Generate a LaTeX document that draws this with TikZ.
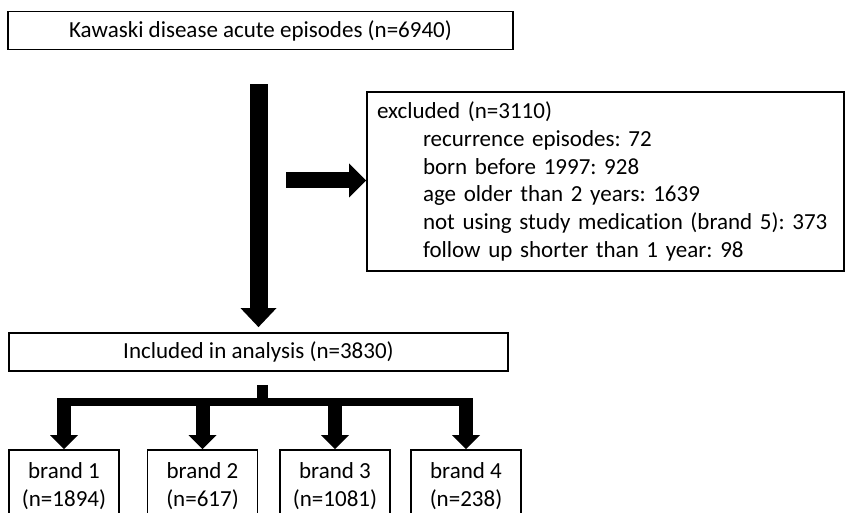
\documentclass[tikz,border=0pt]{standalone}
\usepackage{fontspec}
\setmainfont{Carlito}[Ligatures=NoCommon]
\usetikzlibrary{arrows.meta,calc}
\frenchspacing
\begin{document}
\begin{tikzpicture}[x=1pt,y=-1pt,
  box/.style={draw=black, line width=1.8pt, fill=white, inner sep=0pt,
    font=\fontsize{23}{28}\selectfont},
  bigarrow/.style={line width=18pt, -{Triangle[width=36pt,length=19pt,line width=0pt]}},
  sidearrow/.style={line width=16pt, -{Triangle[width=34pt,length=17pt,line width=0pt]}},
  brarrow/.style={line width=14pt, -{Triangle[width=28pt,length=14pt,line width=0pt]}},
  brandbox/.style={box, minimum width=110pt, minimum height=72pt, align=center}
]
\useasboundingbox (0,0) rectangle (847,513);
\clip (0,0) rectangle (847,513);

\node[box, minimum width=505pt, minimum height=38pt] (top) at (260.5,30.5)
  {Kawaski disease acute episodes (n=6940)};
\node[box, minimum width=499pt, minimum height=38pt] (inc) at (258.5,352)
  {Included in analysis (n=3830)};
\node[box, minimum width=477pt, minimum height=179pt, align=left,
  text width=457pt, inner xsep=10pt, font=\fontsize{23}{27.8}\selectfont] (exc) at (605.5,181.5)
  {excluded (n=3110)\\
   \hspace*{46pt}recurrence episodes: 72\\
   \hspace*{46pt}born before 1997: 928\\
   \hspace*{46pt}age older than 2 years: 1639\\
   \hspace*{46pt}not using study medication (brand 5): 373\\
   \hspace*{46pt}follow up shorter than 1 year: 98};

\node[brandbox] (b1) at (64,486) {brand 1\\(n=1894)};
\node[brandbox] (b2) at (202.5,486) {brand 2\\(n=617)};
\node[brandbox] (b3) at (335,486) {brand 3\\(n=1081)};
\node[brandbox] (b4) at (466,486) {brand 4\\(n=238)};

% main arrow
\draw[bigarrow, shorten <=34pt, shorten >=5pt] (top.south -| inc.north) -- (inc.north);

% side arrow to excluded
\coordinate (ra) at (286,180.5);
\draw[sidearrow] (ra) -- (ra -| exc.west);

% branching
\coordinate (stub) at (262.5,385);
\coordinate (bar) at (262.5,402);
\draw[line width=11pt] (stub) -- (bar);
\draw[line width=8pt] ($(bar -| b1.north)+(-7,0)$) -- ($(bar -| b4.north)+(7,0)$);
\foreach \b in {b1,b2,b3,b4}
  \draw[brarrow] ($(bar -| \b.north)+(0,-4)$) -- (\b.north);
\end{tikzpicture}
\end{document}
